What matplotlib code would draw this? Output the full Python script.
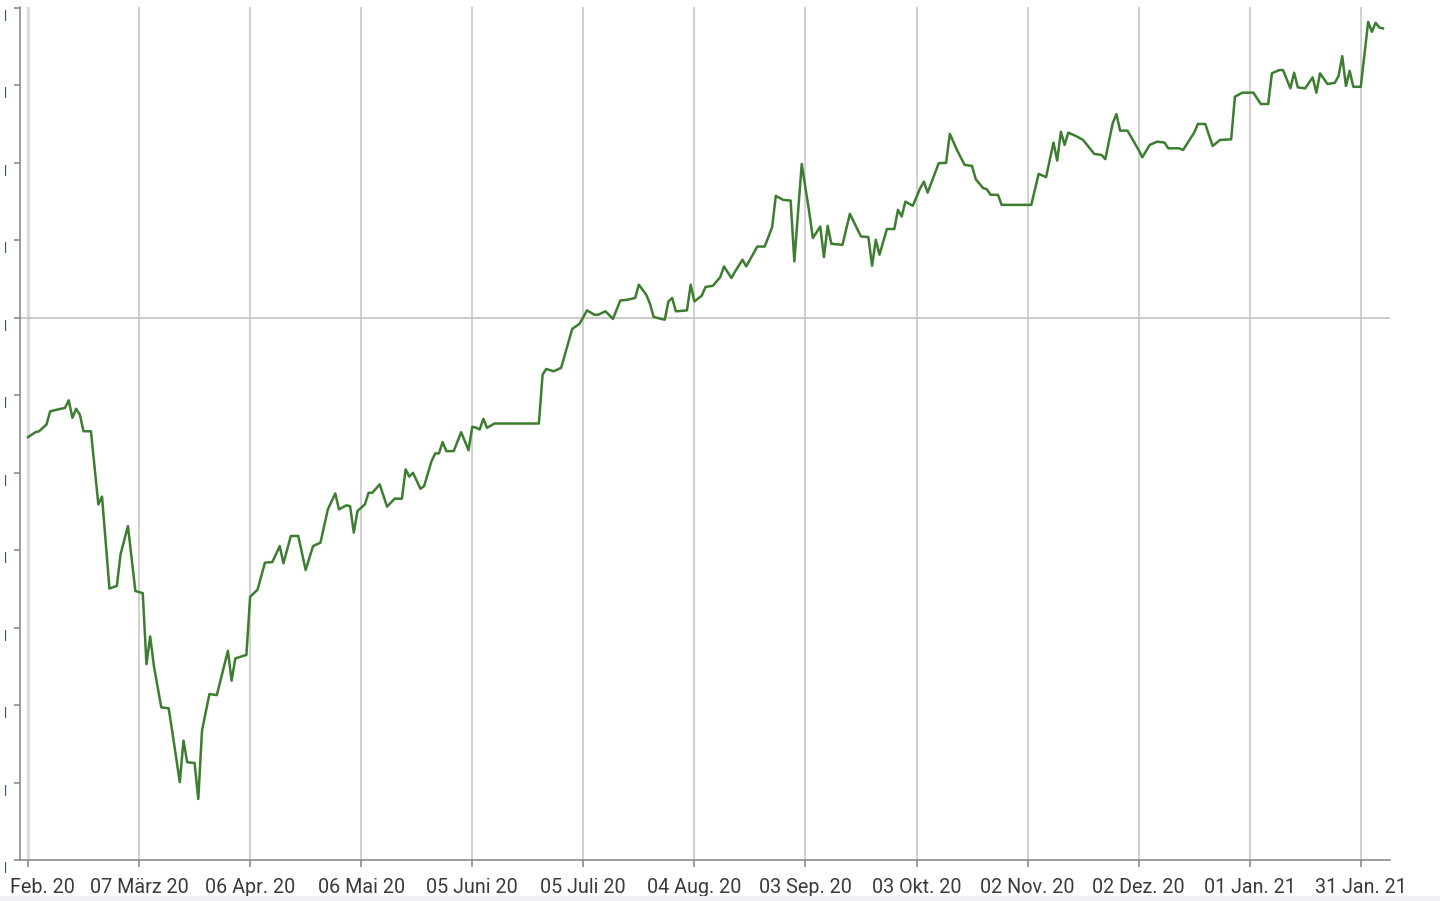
import matplotlib
matplotlib.use("Agg")
import matplotlib.pyplot as plt
import matplotlib.transforms as mtransforms
from matplotlib.patches import Rectangle
import pandas as pd

dates = [
    "2020-02-06", "2020-02-08", "2020-02-09", "2020-02-11", "2020-02-12", "2020-02-15", "2020-02-16",
    "2020-02-17", "2020-02-18", "2020-02-19", "2020-02-20", "2020-02-21", "2020-02-23", "2020-02-25",
    "2020-02-26", "2020-02-28", "2020-03-01", "2020-03-02", "2020-03-04", "2020-03-06", "2020-03-08",
    "2020-03-09", "2020-03-10", "2020-03-11", "2020-03-13", "2020-03-15", "2020-03-16", "2020-03-18",
    "2020-03-19", "2020-03-20", "2020-03-22", "2020-03-23", "2020-03-24", "2020-03-26", "2020-03-28",
    "2020-03-31", "2020-04-01", "2020-04-02", "2020-04-05", "2020-04-06", "2020-04-08", "2020-04-10",
    "2020-04-12", "2020-04-14", "2020-04-15", "2020-04-17", "2020-04-19", "2020-04-21", "2020-04-23",
    "2020-04-25", "2020-04-27", "2020-04-29", "2020-04-30", "2020-05-02", "2020-05-03", "2020-05-04",
    "2020-05-05", "2020-05-07", "2020-05-08", "2020-05-09", "2020-05-11", "2020-05-13", "2020-05-15",
    "2020-05-17", "2020-05-18", "2020-05-19", "2020-05-20", "2020-05-22", "2020-05-23", "2020-05-25",
    "2020-05-26", "2020-05-27", "2020-05-28", "2020-05-29", "2020-05-31", "2020-06-02", "2020-06-04",
    "2020-06-05", "2020-06-06", "2020-06-07", "2020-06-08", "2020-06-09", "2020-06-11", "2020-06-23",
    "2020-06-24", "2020-06-25", "2020-06-27", "2020-06-29", "2020-07-02", "2020-07-04", "2020-07-06",
    "2020-07-08", "2020-07-09", "2020-07-11", "2020-07-13", "2020-07-15", "2020-07-17", "2020-07-19",
    "2020-07-20", "2020-07-22", "2020-07-23", "2020-07-24", "2020-07-26", "2020-07-27", "2020-07-28",
    "2020-07-29", "2020-07-30", "2020-08-02", "2020-08-03", "2020-08-04", "2020-08-06", "2020-08-07",
    "2020-08-09", "2020-08-11", "2020-08-12", "2020-08-14", "2020-08-15", "2020-08-17", "2020-08-18",
    "2020-08-21", "2020-08-23", "2020-08-25", "2020-08-26", "2020-08-28", "2020-08-30", "2020-08-31",
    "2020-09-02", "2020-09-04", "2020-09-05", "2020-09-07", "2020-09-08", "2020-09-09", "2020-09-10",
    "2020-09-13", "2020-09-15", "2020-09-18", "2020-09-20", "2020-09-21", "2020-09-22", "2020-09-23",
    "2020-09-25", "2020-09-27", "2020-09-28", "2020-09-29", "2020-09-30", "2020-10-02", "2020-10-04",
    "2020-10-05", "2020-10-06", "2020-10-09", "2020-10-11", "2020-10-12", "2020-10-14", "2020-10-16",
    "2020-10-18", "2020-10-19", "2020-10-21", "2020-10-22", "2020-10-23", "2020-10-25", "2020-10-26",
    "2020-11-03", "2020-11-05", "2020-11-07", "2020-11-09", "2020-11-10", "2020-11-11", "2020-11-12",
    "2020-11-13", "2020-11-15", "2020-11-17", "2020-11-20", "2020-11-22", "2020-11-23", "2020-11-25",
    "2020-11-26", "2020-11-27", "2020-11-29", "2020-12-02", "2020-12-03", "2020-12-05", "2020-12-07",
    "2020-12-09", "2020-12-10", "2020-12-13", "2020-12-14", "2020-12-17", "2020-12-18", "2020-12-20",
    "2020-12-22", "2020-12-24", "2020-12-27", "2020-12-28", "2020-12-30", "2021-01-02", "2021-01-04",
    "2021-01-06", "2021-01-07", "2021-01-09", "2021-01-10", "2021-01-12", "2021-01-13", "2021-01-14",
    "2021-01-16", "2021-01-18", "2021-01-19", "2021-01-20", "2021-01-22", "2021-01-24", "2021-01-25",
    "2021-01-26", "2021-01-27", "2021-01-28", "2021-01-29", "2021-01-31", "2021-02-02", "2021-02-03",
    "2021-02-04", "2021-02-05", "2021-02-06",
]

values = [
    -7.71, -7.39, -7.33, -6.89, -6.04, -5.88, -5.82,
    -5.33, -6.46, -5.88, -6.25, -7.33, -7.33, -12.05,
    -11.55, -17.48, -17.31, -15.27, -13.45, -17.64, -17.78,
    -22.36, -20.57, -22.47, -25.15, -25.21, -26.76, -29.98,
    -27.30, -28.69, -28.74, -31.06, -26.66, -24.29, -24.36,
    -21.50, -23.43, -21.99, -21.76, -18.01, -17.56, -15.81,
    -15.77, -14.74, -15.85, -14.09, -14.09, -16.28, -14.74,
    -14.52, -12.37, -11.34, -12.37, -12.11, -12.16, -13.87,
    -12.48, -12.05, -11.30, -11.30, -10.76, -12.20, -11.68,
    -11.68, -9.79, -10.26, -10.01, -11.04, -10.87, -9.26,
    -8.76, -8.76, -8.03, -8.61, -8.61, -7.39, -8.55,
    -7.04, -7.09, -7.22, -6.53, -7.11, -6.83, -6.83,
    -3.67, -3.31, -3.46, -3.24, -0.73, -0.39, 0.47,
    0.19, 0.19, 0.41, -0.08, 1.11, 1.16, 1.27,
    2.13, 1.48, 0.90, 0.05, -0.08, -0.13, 1.05,
    1.27, 0.41, 0.47, 2.13, 1.05, 1.42, 1.98,
    2.06, 2.62, 3.31, 2.56, 2.98, 3.74, 3.31,
    4.59, 4.59, 5.84, 7.86, 7.60, 7.56, 3.63,
    9.92, 6.85, 5.14, 5.88, 3.91, 5.93, 4.77,
    4.70, 6.70, 5.24, 5.20, 3.35, 5.03, 4.06,
    5.72, 5.72, 6.96, 6.53, 7.49, 7.22, 8.36,
    8.78, 8.07, 9.97, 9.99, 11.86, 10.79, 9.86,
    9.79, 8.94, 8.36, 8.29, 7.93, 7.93, 7.28,
    7.28, 9.28, 9.07, 11.30, 10.14, 12.00, 11.15,
    11.94, 11.73, 11.47, 10.57, 10.50, 10.23, 12.55,
    13.14, 12.07, 12.07, 10.82, 10.35, 11.15, 11.36,
    11.30, 10.93, 10.93, 10.82, 11.94, 12.50, 12.50,
    11.08, 11.47, 11.51, 14.26, 14.52, 14.52, 13.79,
    13.79, 15.77, 15.98, 15.98, 14.80, 15.81, 14.86,
    14.80, 15.51, 14.52, 15.77, 15.08, 15.16, 15.59,
    16.88, 14.95, 15.93, 14.90, 14.90, 19.09, 18.45,
    19.03, 18.73, 18.67,
]

tick_dates = ["2020-02-06", "2020-03-07", "2020-04-06", "2020-05-06", "2020-06-05", "2020-07-05",
              "2020-08-04", "2020-09-03", "2020-10-03", "2020-11-02", "2020-12-02", "2021-01-01",
              "2021-01-31"]
tick_labels = ["Feb. 20", "07 März 20", "06 Apr. 20", "06 Mai 20", "05 Juni 20", "05 Juli 20",
               "04 Aug. 20", "03 Sep. 20", "03 Okt. 20", "02 Nov. 20", "02 Dez. 20", "01 Jan. 21",
               "31 Jan. 21"]
y_ticks = [-35, -30, -25, -20, -15, -10, -5, 0, 5, 10, 15, 20]

plt.rcParams['font.family'] = ['Roboto', 'DejaVu Sans']

W, H = 1450, 901
fig = plt.figure(figsize=(W / 100, H / 100), dpi=100)
fig.patch.set_facecolor('white')
ax = fig.add_axes([20 / W, 1 - 860 / H, (1390 - 20) / W, (860 - 7) / H])

x = pd.to_datetime(dates)
xt = pd.to_datetime(tick_dates)

for i, t in enumerate(xt):
    ax.axvline(t, color='#dcdcdc' if i == 0 else '#c8c8c8', lw=2.4 if i == 0 else 1.2, zorder=1)
ax.axhline(0, color='#bdbdbd', lw=1.1, zorder=1)

ax.plot(x, values, color='#3c7d30', lw=1.8, zorder=3)

start = pd.Timestamp("2020-02-06")
ax.set_xlim(start - pd.Timedelta(days=2.16), start + pd.Timedelta(days=367.9))
ax.set_ylim(-34.95, 20.05)

ax.set_xticks(xt)
ax.set_xticklabels(tick_labels, fontsize=14.2, color='#3a3a3a')
ax.set_yticks(y_ticks)
ax.set_yticklabels(['|'] * len(y_ticks), fontsize=9, color='#2f5898', fontweight='bold')

for s in ['top', 'right']:
    ax.spines[s].set_visible(False)
for s in ['left', 'bottom']:
    ax.spines[s].set_color('#8c8c8c')
    ax.spines[s].set_linewidth(1.2)

ax.tick_params(axis='x', direction='out', length=5, width=1.2, color='#8c8c8c', pad=8)
ax.tick_params(axis='y', direction='out', length=4, width=1.2, color='#8c8c8c', pad=5)

# first date label sits partly outside the left edge in the source; show its visible part
first = ax.get_xticklabels()[0]
first.set_transform(first.get_transform() +
                    mtransforms.ScaledTranslation(14 / 100, 0, fig.dpi_scale_trans))

offset = mtransforms.ScaledTranslation(0, -6 / 100, fig.dpi_scale_trans)
for lbl in ax.get_yticklabels():
    lbl.set_transform(lbl.get_transform() + offset)

fig.patches.append(Rectangle((0, 0), 1440 / W, 5 / H, transform=fig.transFigure,
                             facecolor='#eef0f4', edgecolor='none', zorder=0))

fig.savefig('out.png', dpi=100)
